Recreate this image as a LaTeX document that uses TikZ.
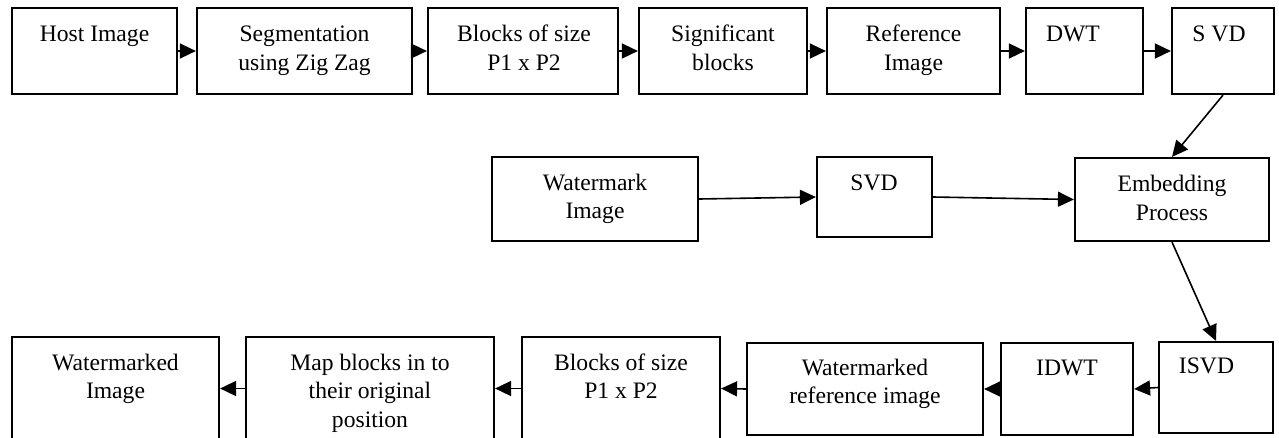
\documentclass[tikz,border=0pt]{standalone}
\usepackage{fontspec}
\setmainfont{Liberation Serif}
\usetikzlibrary{arrows.meta,fit}
\tikzset{
  box/.style={draw, line width=2.2pt, inner sep=0pt},
  txt/.style={font=\fontsize{23.6}{28.5}\selectfont, align=center, inner sep=0pt, anchor=base},
  conn/.style={line width=1.6pt, -{Triangle[length=16pt,width=15pt]}},
}
\begin{document}
\begin{tikzpicture}[x=1pt,y=-1pt]
\useasboundingbox (0,0) rectangle (1279,437);
\clip (0,0) rectangle (1279,437);
% top row
\node[box, fit={(12,8) (177,94)}] (host) {};
\node[box, fit={(197,8) (412,94)}] (seg) {};
\node[box, fit={(428,8) (618,94)}] (blk) {};
\node[box, fit={(639,8) (807,94)}] (sig) {};
\node[box, fit={(827,8) (1000,94)}] (ref) {};
\node[box, fit={(1026,8) (1143,94)}] (dwt) {};
\node[box, fit={(1172,8) (1274,94)}] (svda) {};
\node[txt] (hostT) at (94.5,41.7) {Host Image};
\node[txt] (segT) at (304.5,70.2) {Segmentation\\using Zig Zag};
\node[txt] (blkT) at (524,70.2) {Blocks of size\\P1 x P2};
\node[txt] (sigT) at (723,70.2) {Significant\\blocks};
\node[txt] (refT) at (913.5,70.2) {Reference\\Image};
\node[txt] (dwtT) at (1073,41.7) {DWT};
\node[txt] (svdaT) at (1219,41.7) {S VD};
% middle row
\node[box, fit={(492,157) (698,241)}] (wm) {};
\node[box, fit={(817,157) (932,237)}] (svdb) {};
\node[box, fit={(1075,158) (1269,241)}] (emb) {};
\node[txt] (wmT) at (595,218.5) {Watermark\\Image};
\node[txt] (svdbT) at (874,190) {SVD};
\node[txt] (embT) at (1172,220) {Embedding\\Process};
% bottom row
\node[box, fit={(12,337) (219,440)}] (wmd) {};
\node[box, fit={(246,337) (494,440)}] (map) {};
\node[box, fit={(522,337) (720,440)}] (blkb) {};
\node[box, fit={(747,343) (983,435)}] (wref) {};
\node[box, fit={(1001,343) (1133,435)}] (idwt) {};
\node[box, fit={(1159,342) (1273,433)}] (isvd) {};
\node[txt] (wmdT) at (115.5,398.5) {Watermarked\\Image};
\node[txt] (mapT) at (370,427) {Map blocks in to\\their original\\position};
\node[txt] (blkbT) at (621,398.5) {Blocks of size\\P1 x P2};
\node[txt] (wrefT) at (865,403.5) {Watermarked\\reference image};
\node[txt] (idwtT) at (1067,375) {IDWT};
\node[txt] (isvdT) at (1206.5,373) {ISVD};
% connectors
\draw[conn] (host) -- (seg);
\draw[conn] (seg) -- (blk);
\draw[conn] (blk) -- (sig);
\draw[conn] (sig) -- (ref);
\draw[conn] (ref) -- (dwt);
\draw[conn] (dwt) -- (svda);
\draw[conn] (svda.south) -- (emb.north);
\draw[conn] (wm.east) -- (svdb.west);
\draw[conn] (svdb.east) -- (emb.west);
\draw[conn] (emb.south) -- (isvd.north);
\draw[conn] (isvd.west) -- (idwt.east);
\draw[conn] (idwt.west) -- (wref.east);
\draw[conn] (wref.west) -- (blkb.east);
\draw[conn] (blkb.west) -- (map.east);
\draw[conn] (map.west) -- (wmd.east);
\end{tikzpicture}
\end{document}
